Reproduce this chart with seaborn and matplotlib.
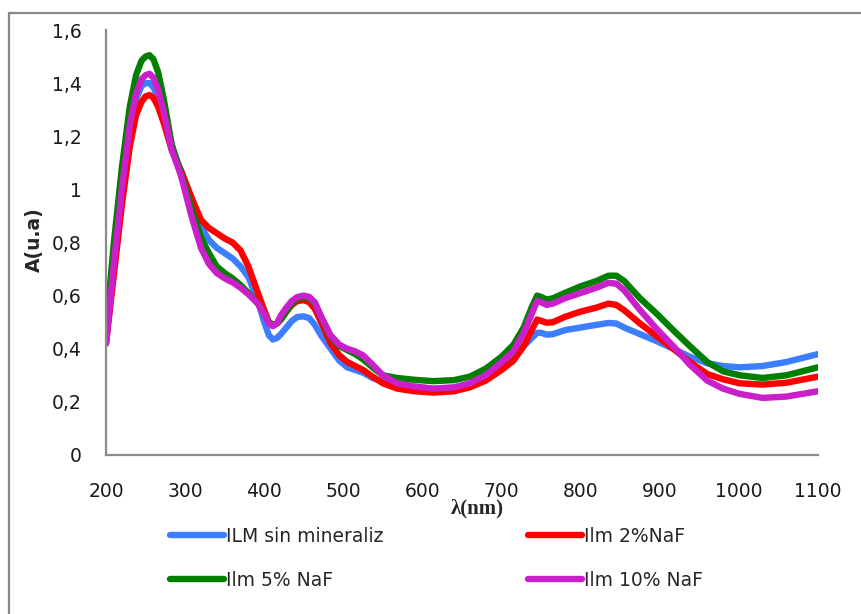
import numpy as np
import pandas as pd
import matplotlib
matplotlib.use("Agg")
import matplotlib.pyplot as plt
import seaborn as sns
from matplotlib.lines import Line2D
from matplotlib.ticker import FixedLocator, FuncFormatter

# Wavelength grid (nm) shared by all spectra
wavelength = [200, 210, 220, 230, 238, 245, 250, 255, 260, 266, 273, 283, 295, 308, 320, 330,
              340, 350, 360, 370, 380, 392, 400, 406, 411, 416, 421, 428, 435, 442, 450, 457,
              464, 472, 484, 495, 505, 515, 525, 537, 550, 568, 590, 614, 640, 660, 680, 700,
              715, 728, 738, 745, 750, 757, 765, 780, 800, 820, 835, 845, 855, 875, 895, 917,
              938, 960, 980, 1001, 1030, 1060, 1100]

# Absorbance spectra (u.a)
ilm_sin = [0.42, 0.72, 0.99, 1.22, 1.34, 1.39, 1.40, 1.40, 1.385, 1.34, 1.26, 1.15, 1.06, 0.95,
           0.86, 0.81, 0.78, 0.76, 0.74, 0.71, 0.67, 0.58, 0.50, 0.45, 0.435, 0.44, 0.455, 0.48,
           0.505, 0.52, 0.522, 0.515, 0.49, 0.45, 0.40, 0.355, 0.33, 0.32, 0.31, 0.29, 0.275,
           0.265, 0.255, 0.245, 0.25, 0.26, 0.29, 0.33, 0.365, 0.41, 0.44, 0.46, 0.46, 0.453,
           0.455, 0.47, 0.48, 0.49, 0.497, 0.495, 0.48, 0.455, 0.43, 0.40, 0.37, 0.345, 0.335,
           0.33, 0.335, 0.35, 0.38]
ilm_2 = [0.42, 0.68, 0.94, 1.16, 1.28, 1.33, 1.35, 1.355, 1.345, 1.31, 1.25, 1.15, 1.07, 0.97,
         0.885, 0.855, 0.835, 0.815, 0.80, 0.77, 0.71, 0.61, 0.545, 0.50, 0.49, 0.495, 0.51,
         0.54, 0.565, 0.58, 0.583, 0.575, 0.55, 0.50, 0.42, 0.375, 0.35, 0.335, 0.32, 0.295,
         0.27, 0.25, 0.24, 0.235, 0.24, 0.255, 0.28, 0.32, 0.355, 0.41, 0.47, 0.51, 0.505,
         0.498, 0.50, 0.52, 0.54, 0.555, 0.57, 0.565, 0.545, 0.495, 0.45, 0.40, 0.35, 0.305,
         0.285, 0.27, 0.265, 0.272, 0.295]
ilm_5 = [0.47, 0.80, 1.08, 1.31, 1.43, 1.485, 1.50, 1.505, 1.49, 1.44, 1.34, 1.17, 1.06, 0.93,
         0.82, 0.76, 0.71, 0.685, 0.665, 0.64, 0.61, 0.57, 0.53, 0.50, 0.49, 0.495, 0.51, 0.54,
         0.57, 0.59, 0.595, 0.59, 0.57, 0.52, 0.445, 0.41, 0.395, 0.38, 0.36, 0.33, 0.30, 0.29,
         0.283, 0.278, 0.282, 0.295, 0.325, 0.37, 0.415, 0.48, 0.555, 0.60, 0.595, 0.585, 0.59,
         0.61, 0.635, 0.655, 0.675, 0.675, 0.655, 0.59, 0.535, 0.47, 0.41, 0.35, 0.315, 0.30,
         0.29, 0.30, 0.33]
ilm_10 = [0.42, 0.72, 1.00, 1.24, 1.36, 1.415, 1.43, 1.435, 1.42, 1.375, 1.29, 1.15, 1.05, 0.90,
          0.78, 0.72, 0.685, 0.665, 0.65, 0.63, 0.605, 0.57, 0.53, 0.495, 0.485, 0.495, 0.525,
          0.555, 0.58, 0.595, 0.60, 0.595, 0.575, 0.52, 0.45, 0.415, 0.40, 0.39, 0.375, 0.34,
          0.30, 0.27, 0.258, 0.25, 0.255, 0.27, 0.30, 0.35, 0.39, 0.46, 0.53, 0.58, 0.575,
          0.565, 0.57, 0.59, 0.61, 0.63, 0.648, 0.645, 0.62, 0.546, 0.478, 0.41, 0.34, 0.28,
          0.25, 0.23, 0.215, 0.22, 0.24]

series_names = ["ILM sin mineraliz", "Ilm 2%NaF", "Ilm 5% NaF", "Ilm 10% NaF"]
series_values = [ilm_sin, ilm_2, ilm_5, ilm_10]
colors = ["#3D7EFF", "#FF0000", "#007F00", "#CC1FCC"]

x_ticks = [200, 300, 400, 500, 600, 700, 800, 900, 1000, 1100]
y_ticks = [0, 0.2, 0.4, 0.6, 0.8, 1.0, 1.2, 1.4, 1.6]

df = pd.concat(
    [pd.DataFrame({"lambda": wavelength, "A": vals, "serie": name})
     for name, vals in zip(series_names, series_values)],
    ignore_index=True,
)

sns.set_style("white")
plt.rcParams["font.family"] = ["DejaVu Sans"]

W, H = 861, 614
fig = plt.figure(figsize=(W / 100, H / 100), dpi=100)
ax = fig.add_axes([106 / W, 1 - 455 / H, (818 - 106) / W, (455 - 30) / H])

sns.lineplot(data=df, x="lambda", y="A", hue="serie", hue_order=series_names,
             palette=colors, linewidth=4.6, estimator=None, sort=False,
             legend=False, ax=ax)
for ln in ax.get_lines():
    ln.set_solid_joinstyle("round")
    ln.set_solid_capstyle("round")

ax.set_xlim(200, 1100)
ax.set_ylim(0, 1.6)
ax.xaxis.set_major_locator(FixedLocator(x_ticks))
ax.yaxis.set_major_locator(FixedLocator(y_ticks))
ax.yaxis.set_major_formatter(FuncFormatter(lambda v, p: f"{v:g}".replace(".", ",")))

spine_col = "#8A8A8A"
for side in ["top", "right"]:
    ax.spines[side].set_visible(False)
for side in ["left", "bottom"]:
    ax.spines[side].set_color(spine_col)
    ax.spines[side].set_linewidth(1.6)
ax.tick_params(axis="both", direction="out", length=5.5, width=1.6, color=spine_col,
               labelsize=13.5, labelcolor="#1A1A1A")
ax.tick_params(axis="y", pad=12)
ax.tick_params(axis="x", pad=14)

ax.set_xlabel("λ(nm)", family="Liberation Serif", fontweight="bold", fontsize=15)
ax.xaxis.set_label_coords((477 - 106) / 712, (455 - 508) / 425)
ax.xaxis.label.set_va("center")
ax.set_ylabel("A(u.a)", fontweight="bold", fontsize=13.5)
ax.yaxis.set_label_coords((34 - 106) / 712, (455 - 240) / 425)
ax.yaxis.label.set_va("center")

# Legend laid out row by row: (sin, 2%) on the first row, (5%, 10%) on the second
handles = [Line2D([], [], color=c, linewidth=4.6, solid_capstyle="round") for c in colors]
order = [0, 2, 1, 3]
fig.legend([handles[i] for i in order], [series_names[i] for i in order],
           loc="upper left", ncol=2,
           bbox_to_anchor=(170 / W, 1 - 527 / H), frameon=False,
           fontsize=13.5, handlelength=2.9, handletextpad=0.1,
           columnspacing=7.7, labelspacing=1.32, borderpad=0, borderaxespad=0)

# Outer chart border (top and left edges)
border = dict(color="#888888", linewidth=1.6, transform=fig.transFigure)
fig.add_artist(Line2D([9 / W, 1.0], [1 - 13 / H, 1 - 13 / H], **border))
fig.add_artist(Line2D([9 / W, 9 / W], [0.0, 1 - 13 / H], **border))

fig.savefig("out.png", dpi=100)
